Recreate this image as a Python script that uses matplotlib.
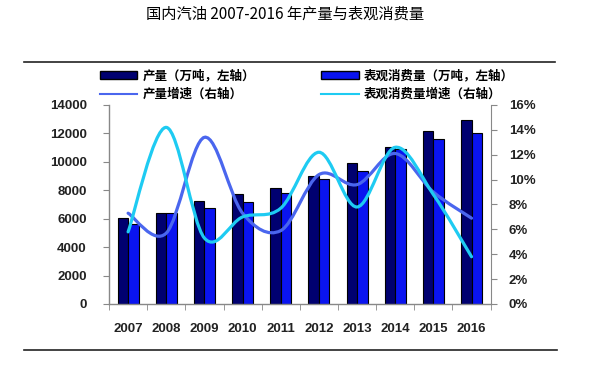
import numpy as np
import matplotlib
matplotlib.use('Agg')
import matplotlib.pyplot as plt
from matplotlib.path import Path
from matplotlib.patches import PathPatch, Patch
from matplotlib.lines import Line2D

plt.rcParams['font.family'] = ['Liberation Sans', 'Noto Sans CJK SC', 'DejaVu Sans']

# 数据
years = ['2007', '2008', '2009', '2010', '2011', '2012', '2013', '2014', '2015', '2016']
production = [6050, 6420, 7250, 7720, 8180, 9030, 9890, 11070, 12190, 12970]
consumption = [5650, 6380, 6780, 7200, 7830, 8770, 9380, 10900, 11590, 12000]
prod_growth = [7.3, 5.7, 13.4, 7.3, 5.9, 10.4, 9.6, 12.1, 9.0, 6.9]
cons_growth = [5.8, 14.2, 5.3, 7.0, 7.7, 12.2, 7.8, 12.6, 8.8, 3.8]

title = '国内汽油 2007-2016 年产量与表观消费量'
legend_labels = ['产量（万吨，左轴）', '产量增速（右轴）',
                 '表观消费量（万吨，左轴）', '表观消费量增速（右轴）']

c_prod = '#000070'
c_cons = '#0A14F0'
c_pg = '#4A66EE'
c_cg = '#1ECBF2'


# 平滑曲线（类似Excel的平滑线）
def smooth_path(xs, ys):
    pts = np.column_stack([xs, ys])
    n = len(pts)
    verts = [pts[0]]
    codes = [Path.MOVETO]
    for i in range(n - 1):
        p0 = pts[i - 1] if i > 0 else pts[i]
        p1 = pts[i]
        p2 = pts[i + 1]
        p3 = pts[i + 2] if i + 2 < n else pts[i + 1]
        c1 = p1 + (p2 - p0) / 6.0
        c2 = p2 - (p3 - p1) / 6.0
        verts += [c1, c2, p2]
        codes += [Path.CURVE4] * 3
    return Path(verts, codes)


fig = plt.figure(figsize=(6, 3.73), dpi=100)
ax = fig.add_axes([0.1817, 0.185, 0.636, 0.5335])

x = np.arange(len(years))
w = 0.275
ax.bar(x - w / 2, production, w, color=c_prod, edgecolor='black', linewidth=0.8, zorder=2)
ax.bar(x + w / 2, consumption, w, color=c_cons, edgecolor='black', linewidth=0.8, zorder=2)

ax.set_xlim(-0.5, len(years) - 0.5)
ax.set_ylim(0, 14000)
ax.set_yticks(range(0, 14001, 2000))
ax.set_xticks(x)
ax.set_xticklabels(years, fontsize=9.5, fontweight='bold', color='#222222')
ax.set_xticks(np.arange(-0.5, len(years)), minor=True)
ax.tick_params(axis='x', which='major', length=0, pad=14)
ax.tick_params(axis='x', which='minor', length=4, color='#888888', direction='out')
ax.tick_params(axis='y', length=4, color='#888888', direction='out', pad=12,
               labelsize=9.5)
for lab in ax.get_yticklabels():
    lab.set_fontweight('bold')
    lab.set_color('#222222')
for s in ['top', 'right']:
    ax.spines[s].set_visible(False)
for s in ['left', 'bottom']:
    ax.spines[s].set_color('#888888')
    ax.spines[s].set_linewidth(1.0)

ax2 = ax.twinx()
ax2.set_ylim(0, 16)
ax2.set_yticks(range(0, 17, 2))
ax2.set_yticklabels([f'{v}%' for v in range(0, 17, 2)], fontsize=9.5, fontweight='bold',
                    color='#222222')
ax2.tick_params(axis='y', length=4, color='#888888', direction='out', pad=9)
for s in ['top', 'left', 'bottom']:
    ax2.spines[s].set_visible(False)
ax2.spines['right'].set_color('#888888')

ax2.add_patch(PathPatch(smooth_path(x, prod_growth), facecolor='none', edgecolor=c_pg,
                        linewidth=2.3, capstyle='round', zorder=3))
ax2.add_patch(PathPatch(smooth_path(x, cons_growth), facecolor='none', edgecolor=c_cg,
                        linewidth=2.3, capstyle='round', zorder=4))

# 图例（按行排列）
handles = [Patch(facecolor=c_prod, edgecolor='black'),
           Line2D([], [], color=c_pg, lw=1.5),
           Patch(facecolor=c_cons, edgecolor='black'),
           Line2D([], [], color=c_cg, lw=1.5)]
fig.legend(handles, legend_labels, ncol=2, loc='upper left', bbox_to_anchor=(0.158, 0.828),
           frameon=False, prop={'family': ['Noto Sans CJK SC'], 'size': 9, 'weight': 'bold'},
           handlelength=3.0, handleheight=0.6, columnspacing=5.3, labelspacing=0.45,
           handletextpad=0.4, borderaxespad=0)

fig.text(0.475, 0.962, title, ha='center', va='center', fontsize=11,
         family=['Noto Sans CJK SC'])

# 上下横线
fig.add_artist(Line2D([0.04, 0.925], [0.835, 0.835], color='#222222', lw=1.2))
fig.add_artist(Line2D([0.04, 0.928], [0.062, 0.062], color='#222222', lw=1.2))

fig.savefig('out.png', dpi=100)
